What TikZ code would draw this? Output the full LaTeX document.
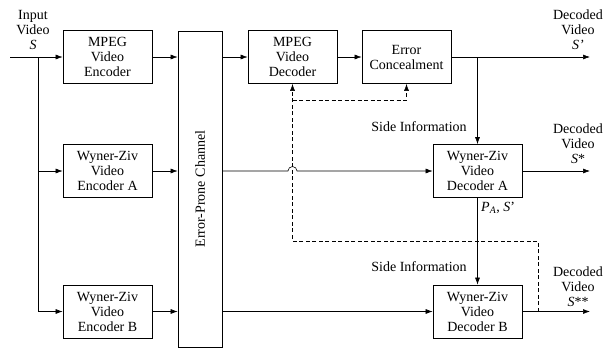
\documentclass[tikz,border=0pt]{standalone}
\usepackage{fontspec}
\setmainfont{Liberation Serif}
\usetikzlibrary{arrows.meta}
\begin{document}
\begin{tikzpicture}[x=1pt,y=-1pt,
  font=\fontsize{14}{15}\selectfont,
  blk/.style={draw,line width=0.7pt,minimum width=89pt,minimum height=53pt,align=center,inner sep=1pt},
  conn/.style={line width=0.6pt,-{Latex[length=7pt,width=5pt]}},
  plain/.style={line width=0.6pt},
  dashln/.style={line width=0.6pt,dash pattern=on 4pt off 2.5pt},
  dasharr/.style={dashln,-{Latex[length=7pt,width=5pt]}},
  lbl/.style={align=center,inner sep=0pt}]
\useasboundingbox (0,0) rectangle (614,349);
% nodes
\node[blk] (enc) at (107.5,57) {MPEG\\Video\\Encoder};
\node[blk] (enca) at (107.5,171) {Wyner-Ziv\\Video\\Encoder A};
\node[blk] (encb) at (107.5,311.5) {Wyner-Ziv\\Video\\Encoder B};
\node[draw,line width=0.7pt,minimum width=44pt,minimum height=316pt,inner sep=0pt] (ch) at (200,189) {};
\node[rotate=90] (chl) at (ch.center) {Error-Prone Channel};
\node[blk] (dec) at (292.5,57) {MPEG\\Video\\Decoder};
\node[blk] (conc) at (406.5,57) {Error\\Concealment};
\node[blk] (deca) at (477.5,171) {Wyner-Ziv\\Video\\Decoder A};
\node[blk] (decb) at (477.5,311.5) {Wyner-Ziv\\Video\\Decoder B};
% coordinates
\coordinate (in) at (10,57);
\coordinate (j1) at (38,57);
\coordinate (j2) at (38,171);
\coordinate (j3) at (38,311.5);
\coordinate (out1) at (590,57);
\coordinate (out2) at (590,171);
\coordinate (out3) at (590,311.5);
\coordinate (js) at (deca.north |- conc.east);
\coordinate (d1) at (538,311.5);
\coordinate (d2) at (538,241);
\coordinate (d3) at (dec.south |- d2);
\coordinate (d4) at (dec.south |- 0,100);
\coordinate (d5) at (conc.south |- 0,100);
\coordinate (h1) at ([xshift=-4.5pt]dec.south |- deca.west);
% labels
\node[lbl] (lin) at (33,30) {Input\\Video\\\textit{S}};
\node[lbl] (lo1) at (578,30) {Decoded\\Video\\\textit{S'}};
\node[lbl] (lo2) at (578,144) {Decoded\\Video\\\textit{S}*};
\node[lbl] (lo3) at (578,287) {Decoded\\Video\\\textit{S}**};
\node[lbl] (si1) at (419,127) {Side Information};
\node[lbl] (si2) at (419,267) {Side Information};
\node[lbl,anchor=west] (pa) at (481,208) {\textit{P}\textsubscript{\textit{A}}, \textit{S}'};
% connectors
\draw[plain] (in) -- (j1);
\draw[conn] (j1) -- (enc.west);
\draw[plain] (j1) -- (j3);
\draw[conn] (j2) -- (enca.west);
\draw[conn] (j3) -- (encb.west);
\draw[conn] (enc.east) -- (enc.east -| ch.west);
\draw[conn] (enca.east) -- (enca.east -| ch.west);
\draw[conn] (encb.east) -- (encb.east -| ch.west);
\draw[conn] (dec.west -| ch.east) -- (dec.west);
\draw[conn] (dec.east) -- (conc.west);
\draw[conn] (conc.east) -- (out1);
\draw[conn] (js) -- (deca.north);
\draw[conn] (deca.west -| ch.east) -- (h1) arc[start angle=180,end angle=0,radius=4.5pt] -- (deca.west);
\draw[conn] (deca.east) -- (out2);
\draw[conn] (deca.south) -- (decb.north);
\draw[conn] (decb.west -| ch.east) -- (decb.west);
\draw[conn] (decb.east) -- (out3);
% dashed feedback
\draw[dasharr] (d1) -- (d2) -- (d3) -- (dec.south);
\draw[dasharr] (d4) -- (d5) -- (conc.south);
\end{tikzpicture}
\end{document}
